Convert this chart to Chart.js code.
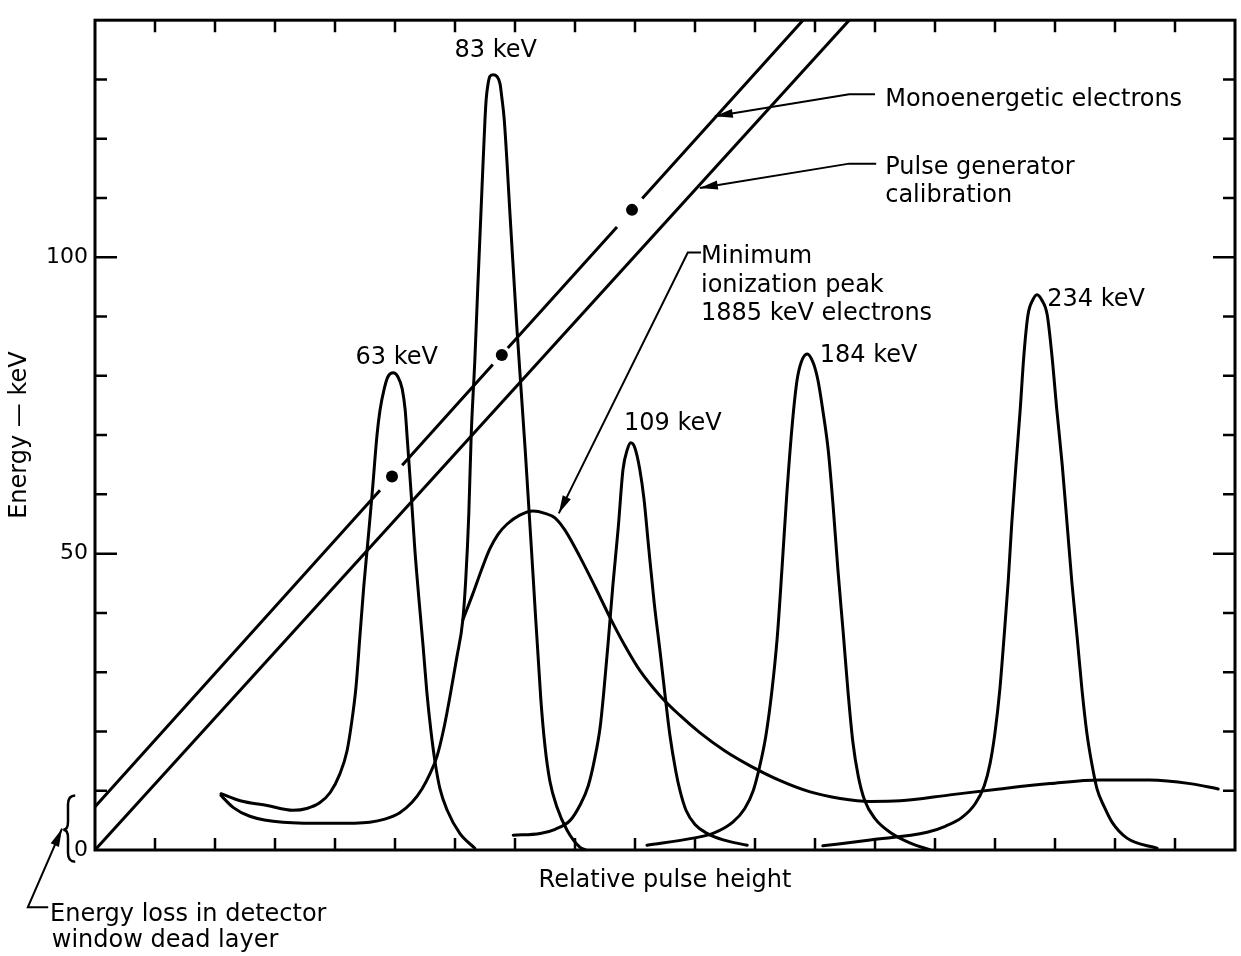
<!DOCTYPE html>
<html>
<head>
<meta charset="utf-8">
<script src="https://cdn.jsdelivr.net/npm/chart.js@4/dist/chart.umd.min.js"></script>
<style>
html,body{margin:0;padding:0;background:#fff;}
#wrap{width:1241px;height:956px;position:relative;}
</style>
</head>
<body>
<div id="wrap"><canvas id="c"></canvas></div>
<script>
// ---------- data (x: relative pulse height, y: energy keV) ----------
const peak63X = [2.10, 2.42, 2.87, 3.30, 3.53, 3.75, 3.92, 4.08, 4.20, 4.28, 4.35, 4.42, 4.48, 4.55, 4.62, 4.70, 4.75, 4.82, 4.88, 4.97, 5.05, 5.12, 5.17, 5.20, 5.27, 5.33, 5.40, 5.47, 5.53, 5.60, 5.67, 5.75, 5.87, 6.08, 6.33];
const peak63Y = [9.5, 8.3, 7.5, 6.7, 7.0, 8.0, 9.7, 12.8, 16.7, 21.7, 27.5, 36.7, 44.5, 52.3, 60.2, 70.0, 74.2, 77.8, 79.8, 80.5, 79.8, 77.8, 74.2, 70.0, 60.0, 50.8, 42.2, 34.2, 26.7, 20.0, 14.7, 10.3, 6.7, 2.8, 0.3];

const peak83X = [2.10, 2.30, 2.58, 3.13, 3.97, 4.58, 4.83, 5.08, 5.28, 5.45, 5.58, 5.70, 5.82, 5.93, 6.03, 6.13, 6.18, 6.23, 6.27, 6.33, 6.38, 6.45, 6.50, 6.52, 6.55, 6.58, 6.63, 6.70, 6.75, 6.78, 6.82, 6.92, 7.03, 7.17, 7.30, 7.43, 7.50, 7.58, 7.70, 7.87, 8.08, 8.18];
const peak83Y = [9.2, 7.2, 5.7, 4.7, 4.5, 4.7, 5.2, 6.3, 8.0, 10.3, 12.8, 15.8, 20.8, 26.7, 32.5, 38.8, 45.8, 56.7, 70.0, 82.5, 95.0, 111.7, 123.3, 126.7, 129.2, 130.5, 130.8, 130.5, 129.3, 127.0, 123.3, 106.7, 88.3, 67.5, 46.5, 25.5, 17.5, 11.7, 7.2, 3.3, 0.5, 0.0];

const minIonX = [6.13, 6.30, 6.45, 6.58, 6.72, 6.87, 7.08, 7.30, 7.50, 7.67, 7.83, 8.08, 8.33, 8.58, 8.83, 9.08, 9.42, 9.75, 10.08, 10.50, 10.92, 11.42, 11.92, 12.42, 12.92, 13.42, 14.25, 15.08, 15.92, 16.75, 17.58, 18.25, 18.72];
const minIonY = [38.8, 43.3, 47.5, 50.8, 53.3, 55.0, 56.5, 57.2, 56.8, 56.0, 54.0, 49.5, 44.5, 39.3, 34.5, 30.3, 26.0, 22.7, 19.8, 16.7, 14.2, 11.7, 9.8, 8.7, 8.2, 8.3, 9.3, 10.3, 11.2, 11.8, 11.8, 11.2, 10.3];

const peak109X = [6.97, 7.42, 7.67, 7.92, 8.08, 8.22, 8.33, 8.42, 8.48, 8.55, 8.63, 8.72, 8.80, 8.87, 8.93, 9.00, 9.08, 9.15, 9.23, 9.32, 9.42, 9.50, 9.58, 9.68, 9.75, 9.85, 10.00, 10.20, 10.47, 10.87];
const peak109Y = [2.5, 2.8, 3.5, 5.0, 7.5, 10.8, 15.5, 20.8, 26.7, 34.7, 44.5, 54.3, 64.2, 67.5, 68.7, 67.8, 64.2, 59.2, 50.8, 41.7, 33.3, 26.2, 19.5, 13.3, 10.0, 6.7, 4.3, 2.8, 1.7, 0.8];

const peak184X = [9.20, 9.97, 10.30, 10.63, 10.83, 10.97, 11.08, 11.18, 11.28, 11.37, 11.45, 11.53, 11.62, 11.70, 11.77, 11.87, 11.97, 12.05, 12.13, 12.22, 12.30, 12.38, 12.47, 12.55, 12.63, 12.72, 12.83, 13.00, 13.25, 13.58, 13.92];
const peak184Y = [0.8, 2.0, 2.8, 4.7, 7.0, 10.0, 14.2, 19.2, 26.7, 35.8, 47.5, 60.0, 71.7, 79.2, 82.3, 83.7, 82.2, 79.2, 74.2, 67.5, 58.3, 47.5, 36.7, 26.7, 18.3, 12.5, 8.3, 5.3, 3.0, 1.2, 0.0];

const peak234X = [12.13, 12.92, 13.87, 14.17, 14.45, 14.67, 14.82, 14.92, 15.00, 15.08, 15.15, 15.22, 15.28, 15.35, 15.42, 15.48, 15.55, 15.63, 15.70, 15.78, 15.87, 15.95, 16.03, 16.12, 16.20, 16.28, 16.37, 16.45, 16.53, 16.62, 16.70, 16.82, 16.95, 17.20, 17.70];
const peak234Y = [0.7, 1.7, 3.0, 4.0, 5.5, 7.8, 10.8, 14.7, 19.8, 27.0, 35.8, 45.3, 55.2, 65.0, 74.3, 83.3, 90.3, 92.8, 93.7, 92.8, 90.3, 83.3, 74.3, 65.0, 55.2, 45.3, 35.8, 27.0, 19.8, 14.2, 10.3, 7.3, 4.7, 2.0, 0.3];

// straight calibration lines (null = break in the line around the dots)
const monoX = [0, 4.75, null, 5.12, 6.63, null, 6.88, 8.70, null, 9.12, 11.80];
const monoY = [7.3, 60.7, null, 64.9, 81.9, null, 84.7, 105.1, null, 109.9, 140];
const pulseX = [0, 12.57];
const pulseY = [0, 140];

// calibration dots
const dotX = [4.95, 6.78, 8.95];
const dotY = [63.0, 83.5, 108.0];

// axis ticks
const yTickValues = [10, 20, 30, 40, 50, 60, 70, 80, 90, 100, 110, 120, 130];
const yMajorTicks = [50, 100];
const yLabelValues = [0, 50, 100];
const xTickValues = [1, 2, 3, 4, 5, 6, 7, 8, 9, 10, 11, 12, 13, 14, 15, 16, 17, 18];

// ---------- helpers ----------
const zip = (xs, ys) => xs.map((v, i) => ({x: v, y: ys[i]}));
const FONT = "'DejaVu Sans', sans-serif";

function curve(xs, ys) {
  return {
    data: zip(xs, ys), showLine: true, borderColor: '#000', borderWidth: 3,
    pointRadius: 0, cubicInterpolationMode: 'monotone', tension: 0.4,
    borderCapStyle: 'round', borderJoinStyle: 'round', spanGaps: false
  };
}
function straight(xs, ys) {
  return {
    data: zip(xs, ys), showLine: true, borderColor: '#000', borderWidth: 3,
    pointRadius: 0, tension: 0, borderCapStyle: 'butt', spanGaps: false
  };
}

// annotation placement (data coordinates, alphabetic baseline)
const labels = [
  {t: '83 keV', x: 6.68, y: 133.8, a: 'center'},
  {t: '63 keV', x: 5.03, y: 82.0, a: 'center'},
  {t: '109 keV', x: 9.63, y: 70.8, a: 'center'},
  {t: '184 keV', x: 12.08, y: 82.3, a: 'left'},
  {t: '234 keV', x: 15.87, y: 91.8, a: 'left'},
  {t: 'Monoenergetic electrons', x: 13.17, y: 125.5, a: 'left'},
  {t: 'Pulse generator', x: 13.17, y: 114.0, a: 'left'},
  {t: 'calibration', x: 13.17, y: 109.3, a: 'left'},
  {t: 'Minimum', x: 10.1, y: 99.0, a: 'left'},
  {t: 'ionization peak', x: 10.1, y: 94.2, a: 'left'},
  {t: '1885 keV electrons', x: 10.1, y: 89.5, a: 'left'},
  {t: 'Relative pulse height', x: 9.5, y: -6.3, a: 'center'},
  {t: 'Energy loss in detector', x: -0.75, y: -12.0, a: 'left'},
  {t: 'window dead layer', x: -0.72, y: -16.3, a: 'left'}
];
const leaders = [
  [[13.0, 127.5], [12.57, 127.5], [10.33, 123.8]],
  [[13.02, 115.8], [12.57, 115.8], [10.08, 111.7]],
  [[10.1, 100.8], [9.88, 100.8], [7.73, 56.8]],
  [[-0.78, -9.67], [-1.12, -9.67], [-0.55, 3.6]]
];

const overlay = {
  id: 'overlay',
  afterDraw(chart) {
    const {ctx, chartArea: a} = chart;
    const xs = chart.scales.x, ys = chart.scales.y;
    const px = v => xs.getPixelForValue(v), py = v => ys.getPixelForValue(v);
    ctx.save();
    ctx.strokeStyle = '#000'; ctx.fillStyle = '#000';
    // frame
    ctx.lineWidth = 3;
    ctx.strokeRect(a.left, a.top, a.right - a.left, a.bottom - a.top);
    // inward ticks
    ctx.lineWidth = 2.5;
    ctx.beginPath();
    yTickValues.forEach(v => {
      const L = yMajorTicks.includes(v) ? 22 : 12, yy = py(v);
      ctx.moveTo(a.left, yy); ctx.lineTo(a.left + L, yy);
      ctx.moveTo(a.right, yy); ctx.lineTo(a.right - L, yy);
    });
    xTickValues.forEach(v => {
      const xx = px(v);
      ctx.moveTo(xx, a.bottom); ctx.lineTo(xx, a.bottom - 12);
      ctx.moveTo(xx, a.top); ctx.lineTo(xx, a.top + 12);
    });
    ctx.stroke();
    // texts
    ctx.font = '24px ' + FONT;
    ctx.textBaseline = 'alphabetic';
    labels.forEach(l => { ctx.textAlign = l.a; ctx.fillText(l.t, px(l.x), py(l.y)); });
    // y title
    ctx.save();
    ctx.translate(26, py(70));
    ctx.rotate(-Math.PI / 2);
    ctx.textAlign = 'center';
    ctx.fillText('Energy \u2014 keV', 0, 0);
    ctx.restore();
    // leaders with arrowheads
    ctx.lineWidth = 2;
    leaders.forEach(pts => {
      const p = pts.map(q => [px(q[0]), py(q[1])]);
      ctx.beginPath();
      ctx.moveTo(p[0][0], p[0][1]);
      for (let i = 1; i < p.length; i++) ctx.lineTo(p[i][0], p[i][1]);
      ctx.stroke();
      const [tx, ty] = p[p.length - 1], [sx, sy] = p[p.length - 2];
      const ang = Math.atan2(ty - sy, tx - sx);
      const len = 18, w = 4.5;
      ctx.beginPath();
      ctx.moveTo(tx, ty);
      ctx.lineTo(tx - len * Math.cos(ang) + w * Math.sin(ang), ty - len * Math.sin(ang) - w * Math.cos(ang));
      ctx.lineTo(tx - len * Math.cos(ang) - w * Math.sin(ang), ty - len * Math.sin(ang) + w * Math.cos(ang));
      ctx.closePath();
      ctx.fill();
    });
    // brace for dead-layer offset
    const bx = px(-0.45), bc = px(-0.53), be = px(-0.33);
    const bt = py(9.2), bm = py(3.4), bb = py(-2.0);
    ctx.lineWidth = 2.5;
    ctx.beginPath();
    ctx.moveTo(be, bt);
    ctx.quadraticCurveTo(bx, bt, bx, bt + 9);
    ctx.lineTo(bx, bm - 8);
    ctx.quadraticCurveTo(bx, bm, bc, bm);
    ctx.quadraticCurveTo(bx, bm, bx, bm + 8);
    ctx.lineTo(bx, bb - 9);
    ctx.quadraticCurveTo(bx, bb, be, bb);
    ctx.stroke();
    ctx.restore();
  }
};

new Chart(document.getElementById('c'), {
  type: 'scatter',
  data: {
    datasets: [
      curve(peak63X, peak63Y),
      curve(peak83X, peak83Y),
      curve(minIonX, minIonY),
      curve(peak109X, peak109Y),
      curve(peak184X, peak184Y),
      curve(peak234X, peak234Y),
      straight(monoX, monoY),
      straight(pulseX, pulseY),
      {data: zip(dotX, dotY), showLine: false, pointRadius: 6, pointBackgroundColor: '#000', pointBorderWidth: 0}
    ]
  },
  options: {
    responsive: true, maintainAspectRatio: false, animation: false, events: [],
    layout: {padding: {top: 10, right: 6, left: 0, bottom: 0}},
    plugins: {legend: {display: false}, tooltip: {enabled: false}},
    scales: {
      x: {
        type: 'linear', min: 0, max: 19,
        grid: {display: false}, border: {display: false},
        ticks: {display: false},
        afterFit: s => { s.height = 106; }
      },
      y: {
        type: 'linear', min: 0, max: 140,
        grid: {display: false, drawTicks: false}, border: {display: false},
        ticks: {
          stepSize: 10, autoSkip: false, padding: 7, color: '#000',
          font: {family: FONT, size: 22},
          callback: v => yLabelValues.includes(v) ? String(v) : ''
        },
        afterFit: s => { s.width = 95; }
      }
    }
  },
  plugins: [overlay]
});
</script>
</body>
</html>
